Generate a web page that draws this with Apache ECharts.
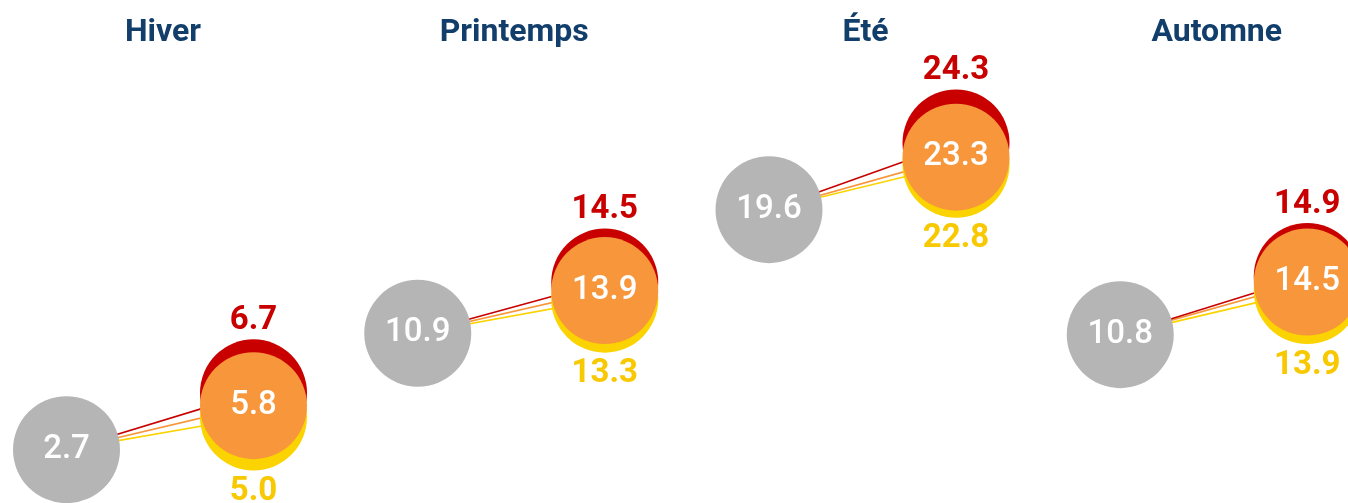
<!DOCTYPE html>
<html>
<head>
<meta charset="utf-8">
<script src="https://cdn.jsdelivr.net/npm/echarts@6/dist/echarts.min.js"></script>
<style>
  html, body { margin: 0; padding: 0; background: #fff; }
  #main { width: 1348px; height: 503px; }
</style>
</head>
<body>
<div id="main"></div>
<script>
// données
const saisons = ['Hiver', 'Printemps', 'Été', 'Automne'];
const periodes = ['Référence', 'Futur'];
const reference = [2.7, 10.9, 19.6, 10.8];
const scenarioFort = [6.7, 14.5, 24.3, 14.9];
const scenarioMoyen = [5.8, 13.9, 23.3, 14.5];
const scenarioFaible = [5.0, 13.3, 22.8, 13.9];

const couleurs = {
  gris: '#b5b5b5',
  fort: '#c80000',
  moyen: '#f7963a',
  faible: '#fbd300',
  titre: '#123e6b'
};

const chart = echarts.init(document.getElementById('main'));

const PAS = 351.25;     // écart entre les panneaux
const GAUCHE = 66.5;
const LARGEUR = 187;
const TAILLE = 107;     // diamètre des cercles
const police = 'Roboto, "Noto Sans", sans-serif';
const TAILLE_TEXTE = 33;

const grids = [], xAxes = [], yAxes = [], titles = [], series = [];

saisons.forEach((s, i) => {
  grids.push({ left: GAUCHE + PAS * i, width: LARGEUR, top: 62, bottom: 15 });
  xAxes.push({ type: 'category', gridIndex: i, data: periodes, boundaryGap: false, show: false });
  yAxes.push({ type: 'value', gridIndex: i, min: 0, max: 30, show: false });
  titles.push({
    text: s,
    left: GAUCHE + PAS * i + LARGEUR / 2 - 2,
    top: 12,
    textAlign: 'center',
    textStyle: { fontFamily: police, fontSize: 32, fontWeight: 'bold', color: couleurs.titre }
  });

  // traits entre la référence et chaque scénario
  [[scenarioFaible, couleurs.faible], [scenarioMoyen, couleurs.moyen], [scenarioFort, couleurs.fort]].forEach(([vals, c], k) => {
    series.push({
      type: 'line', xAxisIndex: i, yAxisIndex: i,
      data: [reference[i], vals[i]],
      symbol: 'none', silent: true, z: 1 + k * 0.1,
      lineStyle: { color: c, width: 1.6 }
    });
  });

  const base = { type: 'scatter', xAxisIndex: i, yAxisIndex: i, symbolSize: TAILLE, silent: true };
  const fmt = p => p.value[1].toFixed(1);

  series.push(Object.assign({}, base, {
    data: [[periodes[1], scenarioFort[i]]], z: 2,
    itemStyle: { color: couleurs.fort, opacity: 1 },
    label: { show: true, position: 'top', distance: 2, formatter: fmt,
      fontFamily: police, fontSize: TAILLE_TEXTE, fontWeight: 'bold', color: couleurs.fort }
  }));
  series.push(Object.assign({}, base, {
    data: [[periodes[1], scenarioFaible[i]]], z: 3,
    itemStyle: { color: couleurs.faible, opacity: 1 },
    label: { show: true, position: 'bottom', distance: 5, formatter: fmt,
      fontFamily: police, fontSize: TAILLE_TEXTE, fontWeight: 'bold', color: '#f8c800' }
  }));
  series.push(Object.assign({}, base, {
    data: [[periodes[1], scenarioMoyen[i]]], z: 4,
    itemStyle: { color: couleurs.moyen, opacity: 1 },
    label: { show: true, position: 'inside', formatter: fmt,
      fontFamily: police, fontSize: TAILLE_TEXTE, fontWeight: 500, color: '#fff' }
  }));
  series.push(Object.assign({}, base, {
    data: [[periodes[0], reference[i]]], z: 5,
    itemStyle: { color: couleurs.gris, opacity: 1 },
    label: { show: true, position: 'inside', formatter: fmt,
      fontFamily: police, fontSize: TAILLE_TEXTE, fontWeight: 500, color: '#fff' }
  }));
});

chart.setOption({
  animation: false,
  title: titles,
  grid: grids,
  xAxis: xAxes,
  yAxis: yAxes,
  series: series
});
</script>
</body>
</html>
